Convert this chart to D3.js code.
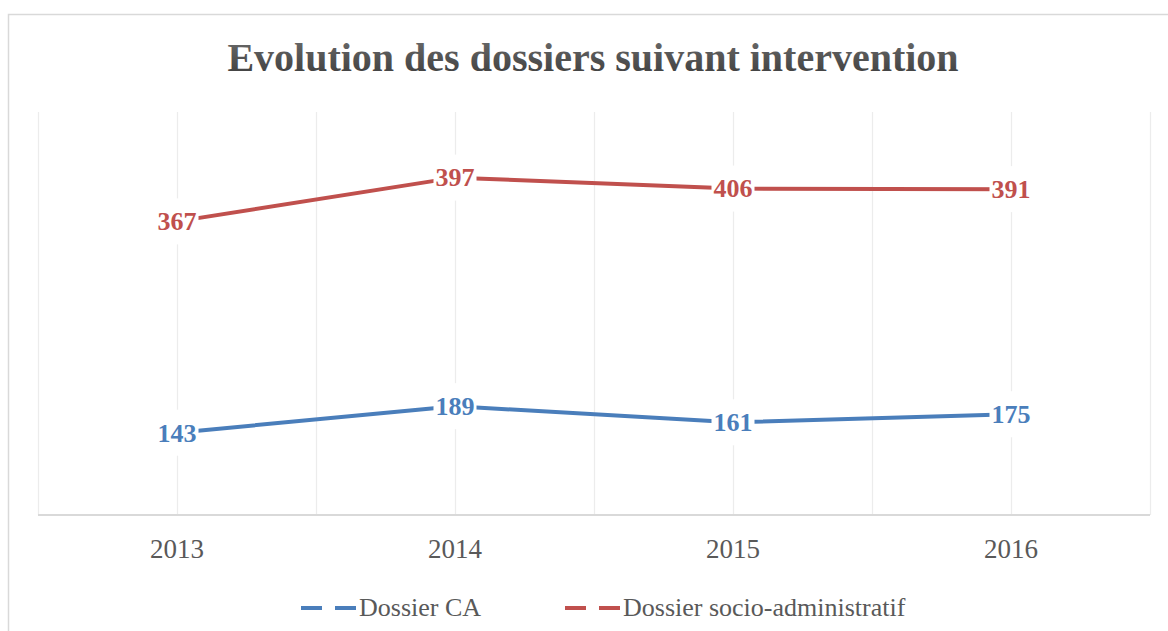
<!DOCTYPE html>
<html><head><meta charset="utf-8">
<script src="https://cdn.jsdelivr.net/npm/d3@7"></script>
<style>body{margin:0;background:#fff;overflow:hidden}</style>
</head><body>
<svg id="c" width="1168" height="631"></svg>
<script>
// ---- data ----
const years = ["2013", "2014", "2015", "2016"];
const dossierCA = [143, 189, 161, 175];
const dossierSocio = [367, 397, 406, 391];
const seriesNames = ["Dossier CA", "Dossier socio-administratif"];
const seriesColors = ["#4a7ebb", "#c0504d"];
const yDomain = [0, 700];
const titleText = "Evolution des dossiers suivant intervention";

// ---- layout ----
const W = 1168, H = 631;
const plot = {left: 38, right: 1150, top: 112, bottom: 515};
const serif = "'Liberation Serif', 'DejaVu Serif', serif";

const svg = d3.select("#c");

// chart frame
svg.append("path")
  .attr("d", `M8.5,${H} L8.5,14.5 L${W},14.5`)
  .attr("fill", "none").attr("stroke", "#d9d9d9").attr("stroke-width", 1.5);

// title gradient
const defs = svg.append("defs");
const grad = defs.append("linearGradient").attr("id", "tg")
  .attr("x1", 0).attr("y1", 0).attr("x2", 0).attr("y2", 1);
grad.append("stop").attr("offset", "0%").attr("stop-color", "#6e6e6e");
grad.append("stop").attr("offset", "100%").attr("stop-color", "#3a3a3a");

svg.append("text")
  .attr("x", 593).attr("y", 71)
  .attr("text-anchor", "middle")
  .attr("font-family", serif).attr("font-weight", "bold")
  .attr("font-size", 40)
  .attr("fill", "url(#tg)")
  .text(titleText);

// scales
const x = d3.scaleBand().domain(years).range([plot.left, plot.right]);
const y = d3.scaleLinear().domain(yDomain).range([plot.bottom, plot.top]);
const cx = d => x(d) + x.bandwidth() / 2;

// rows & stack
const rows = years.map((yr, i) => ({year: yr, ca: dossierCA[i], socio: dossierSocio[i]}));
const keys = ["ca", "socio"];
const stacked = d3.stack().keys(keys)(rows);

// vertical gridlines (band edges and centres)
const gridXs = [];
years.forEach(yr => { gridXs.push(x(yr)); gridXs.push(cx(yr)); });
gridXs.push(plot.right);
svg.append("g").selectAll("line").data(gridXs).join("line")
  .attr("x1", d => Math.round(d) + 0.5).attr("x2", d => Math.round(d) + 0.5)
  .attr("y1", plot.top).attr("y2", plot.bottom)
  .attr("stroke", "#ececec").attr("stroke-width", 1.2);

// x axis
const xAxis = d3.axisBottom(x).tickSize(0).tickPadding(0);
const gx = svg.append("g").attr("transform", `translate(0,${plot.bottom})`).call(xAxis);
gx.select(".domain").attr("stroke", "#d9d9d9").attr("stroke-width", 2)
  .attr("d", `M${plot.left},0H${plot.right}`);
gx.selectAll(".tick text")
  .attr("font-family", serif).attr("font-size", 27)
  .attr("fill", "#595959").attr("dy", null).attr("y", 43);

// lines
const line = d3.line().x(d => cx(d.data.year)).y(d => y(d[1]));
svg.append("g").selectAll("path").data(stacked).join("path")
  .attr("d", s => line(s))
  .attr("fill", "none")
  .attr("stroke", (s, i) => seriesColors[i])
  .attr("stroke-width", 4)
  .attr("stroke-linejoin", "round");

// labels with white boxes
const labG = svg.append("g");
stacked.forEach((s, si) => {
  s.forEach(d => {
    const val = d.data[keys[si]];
    const g = labG.append("g").attr("transform", `translate(${cx(d.data.year)},${y(d[1])})`);
    const t = g.append("text")
      .attr("text-anchor", "middle").attr("dy", "0.34em")
      .attr("font-family", serif).attr("font-weight", "bold")
      .attr("font-size", 26)
      .attr("fill", seriesColors[si])
      .text(val);
    const bb = t.node().getBBox();
    g.insert("rect", "text")
      .attr("x", bb.x - 2).attr("y", -23)
      .attr("width", bb.width + 4).attr("height", 46)
      .attr("fill", "#fff");
  });
});

// legend
const legendItems = [
  {name: seriesNames[0], color: seriesColors[0], x0: 301},
  {name: seriesNames[1], color: seriesColors[1], x0: 565}
];
const lg = svg.append("g").attr("transform", "translate(0,608)");
legendItems.forEach(it => {
  lg.append("line")
    .attr("x1", it.x0).attr("x2", it.x0 + 55).attr("y1", 0).attr("y2", 0)
    .attr("stroke", it.color).attr("stroke-width", 4)
    .attr("stroke-dasharray", "21,13");
  lg.append("text")
    .attr("x", it.x0 + 58).attr("y", 8)
    .attr("font-family", serif).attr("font-size", 26)
    .attr("fill", "#595959")
    .text(it.name);
});
</script>
</body></html>
